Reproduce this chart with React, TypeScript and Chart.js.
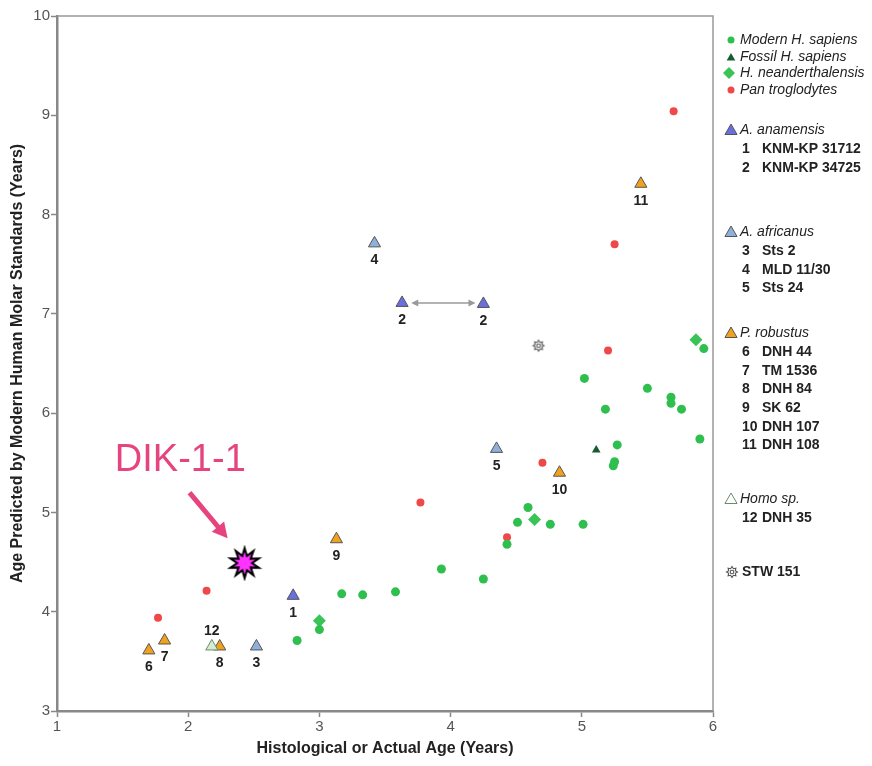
import React, { useEffect, useRef } from 'react';
import { Chart, registerables } from 'chart.js';

Chart.register(...registerables);

const FONT = 'Liberation Sans, Arial, Helvetica, sans-serif';

// ---- Data (x = histological/actual age, y = predicted age) ----
const modernX = [2.83, 3.0, 3.17, 3.33, 3.58, 3.93, 4.25, 4.43, 4.51, 4.59, 4.76, 5.01, 5.02, 5.18, 5.24, 5.25, 5.27, 5.5, 5.68, 5.68, 5.76, 5.9, 5.93];
const modernY = [3.71, 3.82, 4.18, 4.17, 4.2, 4.43, 4.33, 4.68, 4.9, 5.05, 4.88, 4.88, 6.35, 6.04, 5.47, 5.51, 5.68, 6.25, 6.16, 6.1, 6.04, 5.74, 6.65];

const fossilX = [5.11];
const fossilY = [5.63];

const neanderX = [3.0, 4.64, 5.87];
const neanderY = [3.91, 4.93, 6.74];

const panX = [1.77, 2.14, 3.77, 4.43, 4.7, 5.2, 5.25, 5.7];
const panY = [3.94, 4.21, 5.1, 4.75, 5.5, 6.63, 7.7, 9.04];

const anamensisX = [2.8, 3.63, 4.25];
const anamensisY = [4.16, 7.11, 7.1];
const anamensisLabels = ['1', '2', '2'];

const africanusX = [2.52, 3.42, 4.35];
const africanusY = [3.65, 7.71, 5.64];
const africanusLabels = ['3', '4', '5'];

const robustusX = [1.7, 1.82, 2.24, 3.13, 4.83, 5.45];
const robustusY = [3.61, 3.71, 3.65, 4.73, 5.4, 8.31];
const robustusLabels = ['6', '7', '8', '9', '10', '11'];

const homoX = [2.18];
const homoY = [3.65];
const homoLabels = ['12'];
const labelsAbove = ['12'];

const stwX = [4.67];
const stwY = [6.68];

const dikX = [2.43];
const dikY = [4.49];

// annotation anchors in data space
const dikTextPos = [1.94, 5.52];
const dikArrowFrom = [2.01, 5.2];
const dikArrowTo = [2.3, 4.74];
const doubleArrowX = [3.7, 4.19];
const doubleArrowY = 7.11;

const xTicks = [1, 2, 3, 4, 5, 6];
const yTicks = [3, 4, 5, 6, 7, 8, 9, 10];

const speciesLegend = ['Modern H. sapiens', 'Fossil H. sapiens', 'H. neanderthalensis', 'Pan troglodytes'];
const anamensisNames = ['KNM-KP 31712', 'KNM-KP 34725'];
const africanusNames = ['Sts 2', 'MLD 11/30', 'Sts 24'];
const robustusNames = ['DNH 44', 'TM 1536', 'DNH 84', 'SK 62', 'DNH 107', 'DNH 108'];
const homoNames = ['DNH 35'];

const C = {
  modern: '#2fbf4f',
  fossil: '#175c30',
  neander: '#3ac458',
  pan: '#ef4848',
  anamensis: '#6a6fe0',
  africanus: '#8fb0d9',
  robustus: '#f0a21f',
  homo: '#d3ecd2',
  outline: '#444',
  pink: '#e5447f',
};

const pts = (xs: number[], ys: number[]) => xs.map((x, i) => ({ x, y: ys[i] }));

function makeStar(outer: number, inner: number, n: number, fill: string, stroke: string, lw: number, hole = false) {
  const size = Math.ceil(outer * 2 + lw * 2 + 2);
  const cv = document.createElement('canvas');
  cv.width = size;
  cv.height = size;
  const g = cv.getContext('2d')!;
  const c = size / 2;
  g.beginPath();
  for (let i = 0; i < n * 2; i++) {
    const r = i % 2 === 0 ? outer : inner;
    const a = -Math.PI / 2 + (i * Math.PI) / n;
    const px = c + r * Math.cos(a);
    const py = c + r * Math.sin(a);
    if (i === 0) g.moveTo(px, py);
    else g.lineTo(px, py);
  }
  g.closePath();
  g.fillStyle = fill;
  g.fill();
  g.lineWidth = lw;
  g.strokeStyle = stroke;
  g.lineJoin = 'miter';
  g.stroke();
  if (hole) {
    g.beginPath();
    g.arc(c, c, inner * 0.5, 0, Math.PI * 2);
    g.stroke();
  }
  return cv;
}

function drawTri(ctx: CanvasRenderingContext2D, x: number, y: number, r: number, fill: string, stroke: string, lw = 1) {
  ctx.beginPath();
  ctx.moveTo(x, y - r);
  ctx.lineTo(x + r * Math.sin(Math.PI / 3), y + r / 2);
  ctx.lineTo(x - r * Math.sin(Math.PI / 3), y + r / 2);
  ctx.closePath();
  ctx.fillStyle = fill;
  ctx.fill();
  if (stroke) {
    ctx.lineWidth = lw;
    ctx.strokeStyle = stroke;
    ctx.stroke();
  }
}

function arrowHead(ctx: CanvasRenderingContext2D, fx: number, fy: number, tx: number, ty: number, len: number, wid: number, color: string) {
  const a = Math.atan2(ty - fy, tx - fx);
  ctx.beginPath();
  ctx.moveTo(tx, ty);
  ctx.lineTo(tx - len * Math.cos(a) + wid * Math.sin(a), ty - len * Math.sin(a) - wid * Math.cos(a));
  ctx.lineTo(tx - len * Math.cos(a) - wid * Math.sin(a), ty - len * Math.sin(a) + wid * Math.cos(a));
  ctx.closePath();
  ctx.fillStyle = color;
  ctx.fill();
}

export default function App() {
  const ref = useRef<HTMLCanvasElement>(null);

  useEffect(() => {
    const canvas = ref.current!;
    const dikStar = makeStar(15, 7.5, 10, '#ff33ff', '#000', 2);
    const stwStar = makeStar(5.5, 3.6, 8, '#fff', '#555', 1.1, true);

    const labelPlugin = {
      id: 'numLabels',
      afterDatasetsDraw(chart: any) {
        const ctx = chart.ctx;
        ctx.save();
        ctx.font = `bold 14px ${FONT}`;
        ctx.fillStyle = '#222';
        ctx.textAlign = 'center';
        ctx.textBaseline = 'middle';
        chart.data.datasets.forEach((ds: any, di: number) => {
          if (!ds.numLabels) return;
          const meta = chart.getDatasetMeta(di);
          meta.data.forEach((el: any, i: number) => {
            const t = ds.numLabels[i];
            const dy = labelsAbove.includes(t) ? -15 : 17;
            ctx.fillText(t, el.x, el.y + dy);
          });
        });
        ctx.restore();
      },
    };

    const decoPlugin = {
      id: 'deco',
      beforeDatasetsDraw(chart: any) {
        const { ctx, chartArea: a } = chart;
        ctx.save();
        ctx.strokeStyle = '#999';
        ctx.lineWidth = 1.5;
        ctx.beginPath();
        ctx.moveTo(a.left, a.top);
        ctx.lineTo(a.right, a.top);
        ctx.lineTo(a.right, a.bottom);
        ctx.stroke();
        ctx.restore();
      },
      afterDraw(chart: any) {
        const { ctx } = chart;
        const xs = chart.scales.x;
        const ys = chart.scales.y;
        ctx.save();
        // double arrow between the two KNM-KP 34725 estimates
        const x1 = xs.getPixelForValue(doubleArrowX[0]);
        const x2 = xs.getPixelForValue(doubleArrowX[1]);
        const yy = ys.getPixelForValue(doubleArrowY);
        ctx.strokeStyle = '#9a9a9a';
        ctx.lineWidth = 1.5;
        ctx.beginPath();
        ctx.moveTo(x1 + 4, yy);
        ctx.lineTo(x2 - 4, yy);
        ctx.stroke();
        arrowHead(ctx, x2, yy, x1, yy, 7, 3.5, '#9a9a9a');
        arrowHead(ctx, x1, yy, x2, yy, 7, 3.5, '#9a9a9a');

        // DIK-1-1 annotation
        ctx.font = `38px ${FONT}`;
        ctx.fillStyle = C.pink;
        ctx.textAlign = 'center';
        ctx.textBaseline = 'middle';
        ctx.fillText('DIK-1-1', xs.getPixelForValue(dikTextPos[0]), ys.getPixelForValue(dikTextPos[1]));
        const fx = xs.getPixelForValue(dikArrowFrom[0]);
        const fy = ys.getPixelForValue(dikArrowFrom[1]);
        const tx = xs.getPixelForValue(dikArrowTo[0]);
        const ty = ys.getPixelForValue(dikArrowTo[1]);
        const ang = Math.atan2(ty - fy, tx - fx);
        ctx.strokeStyle = C.pink;
        ctx.lineWidth = 5;
        ctx.lineCap = 'butt';
        ctx.beginPath();
        ctx.moveTo(fx, fy);
        ctx.lineTo(tx - 12 * Math.cos(ang), ty - 12 * Math.sin(ang));
        ctx.stroke();
        arrowHead(ctx, fx, fy, tx, ty, 15, 8, C.pink);

        // Legend
        const mx = 723;
        const tx0 = 732;
        ctx.textAlign = 'left';
        ctx.textBaseline = 'middle';
        ctx.fillStyle = '#222';
        ctx.font = `italic 14px ${FONT}`;
        const sRows = [32, 49, 65, 82];
        // markers
        ctx.beginPath();
        ctx.arc(mx, sRows[0], 3.5, 0, Math.PI * 2);
        ctx.fillStyle = C.modern;
        ctx.fill();
        drawTri(ctx, mx, sRows[1] + 1, 5, C.fossil, '');
        ctx.beginPath();
        ctx.moveTo(mx - 2, sRows[2] - 6);
        ctx.lineTo(mx + 4, sRows[2]);
        ctx.lineTo(mx - 2, sRows[2] + 6);
        ctx.lineTo(mx - 8, sRows[2]);
        ctx.closePath();
        ctx.fillStyle = C.neander;
        ctx.fill();
        ctx.beginPath();
        ctx.arc(mx, sRows[3], 3.5, 0, Math.PI * 2);
        ctx.fillStyle = C.pan;
        ctx.fill();
        ctx.fillStyle = '#222';
        speciesLegend.forEach((t, i) => ctx.fillText(t, tx0, sRows[i]));

        const group = (title: string, color: string, y: number, nums: string[], names: string[], stroke = '#555') => {
          drawTri(ctx, mx, y + 1, 7, color, stroke, 1);
          ctx.fillStyle = '#222';
          ctx.font = `italic 14px ${FONT}`;
          ctx.fillText(title, tx0, y);
          ctx.font = `bold 14px ${FONT}`;
          names.forEach((n, i) => {
            const ry = y + 19 + i * 18.7;
            ctx.fillText(nums[i], 734, ry);
            ctx.fillText(n, 754, ry);
          });
        };
        group('A. anamensis', C.anamensis, 122, ['1', '2'], anamensisNames);
        group('A. africanus', C.africanus, 224, ['3', '4', '5'], africanusNames);
        group('P. robustus', C.robustus, 325, ['6', '7', '8', '9', '10', '11'], robustusNames);
        group('Homo sp.', '#fff', 491, ['12'], homoNames, '#6a8a6a');

        ctx.drawImage(stwStar, mx + 1 - stwStar.width / 2, 564 - stwStar.height / 2);
        ctx.font = `bold 14px ${FONT}`;
        ctx.fillStyle = '#222';
        ctx.fillText('STW 151', 734, 564);
        ctx.restore();
      },
    };

    const tri = (data: any, color: string, labels?: string[], stroke = '#555') => ({
      data,
      pointStyle: 'triangle',
      pointRadius: 7,
      backgroundColor: color,
      borderColor: stroke,
      borderWidth: 1,
      numLabels: labels,
    });

    const chart = new Chart(canvas, {
      type: 'scatter',
      data: {
        datasets: [
          { data: pts(modernX, modernY), pointStyle: 'circle', pointRadius: 4.5, backgroundColor: C.modern, borderWidth: 0 },
          { data: pts(neanderX, neanderY), pointStyle: 'rectRot', pointRadius: 6.5, backgroundColor: C.neander, borderWidth: 0 },
          { data: pts(fossilX, fossilY), pointStyle: 'triangle', pointRadius: 5, backgroundColor: C.fossil, borderWidth: 0 },
          { data: pts(panX, panY), pointStyle: 'circle', pointRadius: 4, backgroundColor: C.pan, borderWidth: 0 },
          tri(pts(anamensisX, anamensisY), C.anamensis, anamensisLabels),
          tri(pts(africanusX, africanusY), C.africanus, africanusLabels),
          tri(pts(homoX, homoY), C.homo, homoLabels, '#6a8a6a'),
          tri(pts(robustusX, robustusY), C.robustus, robustusLabels),
          { data: pts(stwX, stwY), pointStyle: stwStar, backgroundColor: '#fff' },
          { data: pts(dikX, dikY), pointStyle: dikStar, backgroundColor: '#f3f' },
        ] as any,
      },
      options: {
        animation: false,
        responsive: false,
        maintainAspectRatio: false,
        events: [],
        layout: { padding: { top: 7, right: 151, left: 0, bottom: 0 } },
        plugins: { legend: { display: false }, tooltip: { enabled: false } },
        scales: {
          x: {
            type: 'linear',
            min: 1,
            max: 6,
            afterBuildTicks: (s: any) => { s.ticks = xTicks.map((v) => ({ value: v })); },
            afterFit: (s: any) => { s.height = 47; s.paddingLeft = 0; s.paddingRight = 0; },
            ticks: { color: '#555', font: { size: 15, family: FONT }, padding: 1, maxRotation: 0 },
            grid: { drawOnChartArea: false, tickLength: 6, color: '#888', tickWidth: 1.5 },
            border: { color: '#888', width: 2.5 },
            title: { display: true, text: 'Histological or Actual Age (Years)', color: '#222', font: { size: 16, weight: 'bold', family: FONT }, padding: 0 },
          },
          y: {
            type: 'linear',
            min: 3,
            max: 10,
            afterBuildTicks: (s: any) => { s.ticks = yTicks.map((v) => ({ value: v })); },
            afterFit: (s: any) => { s.width = 49; s.paddingTop = 0; s.paddingBottom = 0; },
            ticks: { color: '#555', font: { size: 15, family: FONT }, padding: 1 },
            grid: { drawOnChartArea: false, tickLength: 6, color: '#888', tickWidth: 1.5 },
            border: { color: '#888', width: 2.5 },
            title: { display: true, text: 'Age Predicted by Modern Human Molar Standards (Years)', color: '#222', font: { size: 16, weight: 'bold', family: FONT }, padding: 0 },
          },
        },
      } as any,
      plugins: [decoPlugin, labelPlugin],
    });
    return () => chart.destroy();
  }, []);

  return (
    <div style={{ width: 856, height: 750 }}>
      <canvas ref={ref} width={856} height={750} style={{ display: 'block' }} />
    </div>
  );
}
